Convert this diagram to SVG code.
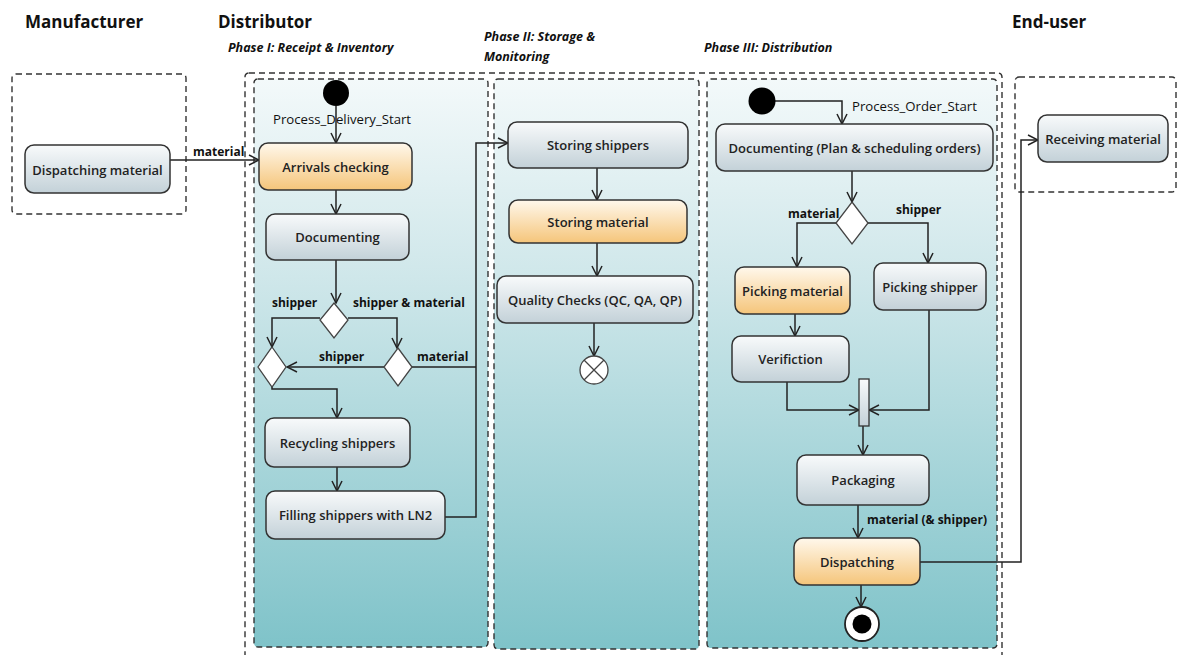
<svg xmlns="http://www.w3.org/2000/svg" width="1180" height="655" viewBox="0 0 1180 655">
<style>
.hdr{font-family:"Open Sans","Liberation Sans",sans-serif;font-weight:700;font-size:17px;fill:#111}
.ph{font-family:"Open Sans","Liberation Sans",sans-serif;font-weight:700;font-style:italic;font-size:12.5px;fill:#111}
.nt{font-family:"Open Sans","Liberation Sans",sans-serif;font-weight:600;font-size:13px;fill:#222;text-anchor:middle;dominant-baseline:central}
.lb{font-family:"Open Sans","Liberation Sans",sans-serif;font-weight:700;font-size:12px;fill:#111}
.lbn{font-family:"Open Sans","Liberation Sans",sans-serif;font-weight:400;font-size:13.2px;fill:#111}
.dash{fill:none;stroke:#333;stroke-width:1.4;stroke-dasharray:6 4}
.lane{fill:url(#laneG);stroke:#333;stroke-width:1.4;stroke-dasharray:6 4}
.n{fill:url(#grayG);stroke:#333;stroke-width:1.5}
.o{fill:url(#orgG);stroke:#333;stroke-width:1.5}
.dia{fill:#fff;stroke:#444;stroke-width:1.3}
.c{fill:none;stroke:#222;stroke-width:1.5}
.ca{fill:none;stroke:#222;stroke-width:1.5;marker-end:url(#arr)}
</style>
<defs>
<linearGradient id="laneG" x1="0" y1="0" x2="0" y2="1">
<stop offset="0" stop-color="#f3f9fa"/>
<stop offset="0.35" stop-color="#cfe7ea"/>
<stop offset="1" stop-color="#7fc3c9"/>
</linearGradient>
<linearGradient id="grayG" x1="0" y1="0" x2="0" y2="1">
<stop offset="0" stop-color="#f8fafb"/>
<stop offset="1" stop-color="#c3d1d8"/>
</linearGradient>
<linearGradient id="orgG" x1="0" y1="0" x2="0" y2="1">
<stop offset="0" stop-color="#fff8ec"/>
<stop offset="1" stop-color="#f5c57a"/>
</linearGradient>
<marker id="arr" viewBox="0 0 12 12" refX="11" refY="6" markerWidth="12" markerHeight="12" markerUnits="userSpaceOnUse" orient="auto">
<path d="M1,1 L11,6 L1,11" fill="none" stroke="#222" stroke-width="1.5"/>
</marker>
</defs>
<rect width="1180" height="655" fill="#fff"/>

<!-- headers -->
<g id="headers">
<text class="hdr" x="25" y="28">Manufacturer</text>
<text class="hdr" x="218" y="28">Distributor</text>
<text class="hdr" x="1012" y="28">End-user</text>
<text class="ph" x="228" y="52">Phase I: Receipt &amp; Inventory</text>
<text class="ph" x="484" y="41">Phase II: Storage &amp;</text>
<text class="ph" x="484" y="61">Monitoring</text>
<text class="ph" x="704" y="52">Phase III: Distribution</text>
</g>

<!-- swimlane containers -->
<g id="containers">
<rect class="dash" x="12" y="74" width="174" height="140" rx="4"/>
<rect class="dash" x="245" y="73" width="757" height="600" rx="4"/>
<rect class="lane" x="254" y="79" width="234" height="568" rx="4"/>
<rect class="lane" x="494" y="79" width="205" height="570" rx="4"/>
<rect class="lane" x="707" y="79" width="290" height="569" rx="4"/>
<rect class="dash" x="1015" y="77" width="161" height="115" rx="4"/>
</g>

<!-- connectors -->
<g id="connectors">
<path class="ca" d="M170,160 L259,160"/>
<text class="lb" x="193" y="156">material</text>
<path class="ca" d="M336,106 L336,143"/>
<text class="lbn" x="273" y="124">Process_Delivery_Start</text>
<path class="ca" d="M336,190 L336,214"/>
<path class="ca" d="M336,260 L336,303"/>
<path class="ca" d="M320,318 L272,318 L272,347"/>
<text class="lb" x="272" y="307">shipper</text>
<path class="ca" d="M348,318 L397,318 L397,348"/>
<text class="lb" x="353" y="307">shipper &amp; material</text>
<path class="ca" d="M384,367 L287,367"/>
<text class="lb" x="319" y="361">shipper</text>
<path class="c" d="M412,367 L476,367"/>
<text class="lb" x="417" y="361">material</text>
<path class="ca" d="M272,387 L272,389 L337,389 L337,418"/>
<path class="ca" d="M337,467 L337,491"/>
<path class="ca" d="M445,517 L476,517 L476,143 L508,143"/>
<path class="ca" d="M597,168 L597,200"/>
<path class="ca" d="M597,243 L597,276"/>
<path class="ca" d="M594,323 L594,356"/>
<path class="ca" d="M775,101 L842,101 L842,124"/>
<text class="lbn" x="852" y="111">Process_Order_Start</text>
<path class="ca" d="M852,171 L852,202"/>
<path class="ca" d="M836,223 L797,223 L797,267"/>
<text class="lb" x="788" y="218">material</text>
<path class="ca" d="M868,223 L928,223 L928,263"/>
<text class="lb" x="896" y="214">shipper</text>
<path class="ca" d="M795,314 L795,336"/>
<path class="ca" d="M787,382 L787,410 L859,410"/>
<path class="ca" d="M929,310 L929,410 L869,410"/>
<path class="ca" d="M863,426 L863,455"/>
<path class="ca" d="M858,505 L858,538"/>
<text class="lb" x="867" y="524">material (&amp; shipper)</text>
<path class="ca" d="M861,585 L861,607"/>
<path class="ca" d="M920,562 L1021,562 L1021,140 L1038,140"/>
</g>

<!-- nodes -->
<g id="n-dispatching-material">
<rect class="n" x="25" y="145" width="145" height="48" rx="9"/>
<text class="nt" x="97.5" y="169.5">Dispatching material</text>
</g>
<g id="n-start-delivery">
<circle cx="336" cy="93" r="13" fill="#000"/>
</g>
<g id="n-arrivals">
<rect class="o" x="259" y="143" width="153" height="47" rx="9"/>
<text class="nt" x="335.5" y="166.5">Arrivals checking</text>
</g>
<g id="n-documenting">
<rect class="n" x="266" y="214" width="143" height="46" rx="9"/>
<text class="nt" x="337.5" y="237">Documenting</text>
</g>
<g id="n-decision1">
<polygon class="dia" points="334,303 348,320 334,338 320,320"/>
</g>
<g id="n-decision2">
<polygon class="dia" points="272,347 286,367 272,387 258,367"/>
</g>
<g id="n-decision3">
<polygon class="dia" points="398,348 412,367 398,386 384,367"/>
</g>
<g id="n-recycling">
<rect class="n" x="265" y="418" width="145" height="49" rx="9"/>
<text class="nt" x="337.5" y="442.5">Recycling shippers</text>
</g>
<g id="n-filling">
<rect class="n" x="266" y="491" width="179" height="48" rx="9"/>
<text class="nt" x="355.5" y="515">Filling shippers with LN2</text>
</g>
<g id="n-storing-shippers">
<rect class="n" x="508" y="122" width="180" height="46" rx="9"/>
<text class="nt" x="598" y="145">Storing shippers</text>
</g>
<g id="n-storing-material">
<rect class="o" x="509" y="200" width="178" height="43" rx="9"/>
<text class="nt" x="598" y="221.5">Storing material</text>
</g>
<g id="n-quality">
<rect class="n" x="497" y="276" width="196" height="47" rx="9"/>
<text class="nt" x="595" y="299.5">Quality Checks (QC, QA, QP)</text>
</g>
<g id="n-flow-final">
<circle cx="594" cy="370" r="14" fill="#fff" stroke="#444" stroke-width="1.3"/>
<path d="M584,360 L604,380 M604,360 L584,380" stroke="#444" stroke-width="1.3"/>
</g>
<g id="n-start-order">
<circle cx="762" cy="101" r="13.5" fill="#000"/>
</g>
<g id="n-documenting-plan">
<rect class="n" x="716" y="124" width="277" height="47" rx="9"/>
<text class="nt" x="854.5" y="147.5">Documenting (Plan &amp; scheduling orders)</text>
</g>
<g id="n-decision4">
<polygon class="dia" points="852,202 868,223 852,244 836,223"/>
</g>
<g id="n-picking-material">
<rect class="o" x="735" y="267" width="115" height="47" rx="9"/>
<text class="nt" x="792.5" y="291">Picking material</text>
</g>
<g id="n-picking-shipper">
<rect class="n" x="874" y="263" width="112" height="47" rx="9"/>
<text class="nt" x="930" y="287">Picking shipper</text>
</g>
<g id="n-verification">
<rect class="n" x="732" y="336" width="117" height="46" rx="9"/>
<text class="nt" x="790.5" y="359">Verifiction</text>
</g>
<g id="n-join">
<rect x="859" y="379" width="10" height="47" fill="url(#grayG)" stroke="#333" stroke-width="1.3"/>
</g>
<g id="n-packaging">
<rect class="n" x="797" y="455" width="132" height="50" rx="9"/>
<text class="nt" x="863" y="480">Packaging</text>
</g>
<g id="n-dispatching">
<rect class="o" x="794" y="538" width="126" height="47" rx="9"/>
<text class="nt" x="857" y="561.5">Dispatching</text>
</g>
<g id="n-final">
<circle cx="862" cy="624" r="17" fill="#fff" stroke="#222" stroke-width="1.8"/>
<circle cx="862" cy="624" r="9.5" fill="#000"/>
</g>
<g id="n-receiving">
<rect class="n" x="1038" y="115" width="130" height="47" rx="9"/>
<text class="nt" x="1103" y="138.5">Receiving material</text>
</g>
</svg>
